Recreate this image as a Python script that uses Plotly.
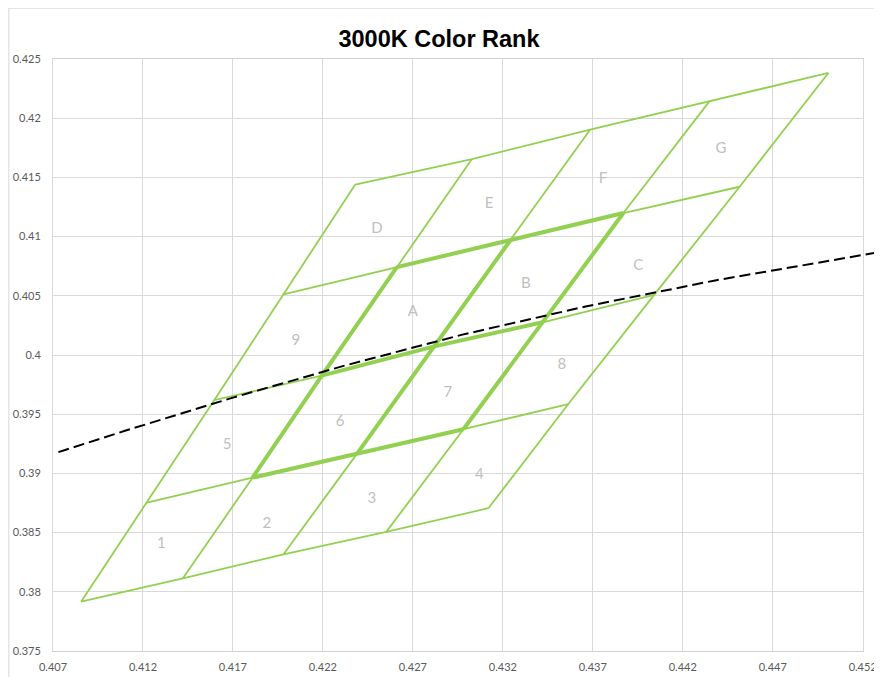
import plotly.graph_objects as go

# Grid points of the bin boundaries (shallow lines, bottom to top), 5 points each left->right
row0_x = [0.40856, 0.41422, 0.41981, 0.42552, 0.43120]
row0_y = [0.37917, 0.38114, 0.38317, 0.38506, 0.38706]
row1_x = [0.41222, 0.41809, 0.42389, 0.42981, 0.43564]
row1_y = [0.38753, 0.38964, 0.39165, 0.39373, 0.39586]
row2_x = [0.41596, 0.42194, 0.42814, 0.43421, 0.44041]
row2_y = [0.39618, 0.39826, 0.40071, 0.40276, 0.40508]
row3_x = [0.41981, 0.42611, 0.43241, 0.43870, 0.44516]
row3_y = [0.40513, 0.40742, 0.40967, 0.41199, 0.41421]
row4_x = [0.42379, 0.43028, 0.43685, 0.44348, 0.45009]
row4_y = [0.41438, 0.41655, 0.41903, 0.42142, 0.42382]

# Black body locus (dashed)
locus_x = [0.4073, 0.4110, 0.4170, 0.4232, 0.4297, 0.4366, 0.4438, 0.4514, 0.4545]
locus_y = [0.3918, 0.3936, 0.3964, 0.3991, 0.4017, 0.4041, 0.4063, 0.4083, 0.4091]

# Bin labels
bin_names = ["1", "2", "3", "4", "5", "6", "7", "8", "9", "A", "B", "C", "D", "E", "F", "G"]
bin_x = [0.41302, 0.41889, 0.42472, 0.43070, 0.41667, 0.42296, 0.42894, 0.43528,
         0.42050, 0.42700, 0.43328, 0.43953, 0.42500, 0.43124, 0.43756, 0.44413]
bin_y = [0.38404, 0.38571, 0.38784, 0.38987, 0.39241, 0.39433, 0.39678, 0.39917,
         0.40120, 0.40359, 0.40599, 0.40753, 0.41058, 0.41275, 0.41486, 0.41734]

x_ticks = [0.407, 0.412, 0.417, 0.422, 0.427, 0.432, 0.437, 0.442, 0.447, 0.452]
y_ticks = [0.375, 0.38, 0.385, 0.39, 0.395, 0.4, 0.405, 0.41, 0.415, 0.42, 0.425]

rows_x = [row0_x, row1_x, row2_x, row3_x, row4_x]
rows_y = [row0_y, row1_y, row2_y, row3_y, row4_y]

GREEN = "#92D050"
fig = go.Figure()

# thin full grid
for rx, ry in zip(rows_x, rows_y):
    fig.add_trace(go.Scatter(x=rx, y=ry, mode="lines",
                             line=dict(color=GREEN, width=1.8), hoverinfo="skip"))
for i in range(5):
    fig.add_trace(go.Scatter(x=[r[i] for r in rows_x], y=[r[i] for r in rows_y], mode="lines",
                             line=dict(color=GREEN, width=1.8), hoverinfo="skip"))

# thick inner quadrangle
for j in range(1, 4):
    fig.add_trace(go.Scatter(x=rows_x[j][1:4], y=rows_y[j][1:4], mode="lines",
                             line=dict(color=GREEN, width=4), hoverinfo="skip"))
for i in range(1, 4):
    fig.add_trace(go.Scatter(x=[rows_x[j][i] for j in range(1, 4)],
                             y=[rows_y[j][i] for j in range(1, 4)], mode="lines",
                             line=dict(color=GREEN, width=4), hoverinfo="skip"))

# labels
fig.add_trace(go.Scatter(x=bin_x, y=bin_y, mode="text", text=bin_names,
                         textfont=dict(family="Lato", size=15, color="#BFBFBF"),
                         hoverinfo="skip"))

# locus (on a hidden, wider axis so it can run past the right edge of the plot, as in the reference)
fig.add_trace(go.Scatter(x=locus_x, y=locus_y, mode="lines", xaxis="x2", yaxis="y2",
                         line=dict(color="black", width=2, dash="11px,5px"), hoverinfo="skip"))

W, H = 874, 669
ML, MR, MT, MB = 44.7, 0, 51.3, 26
PW, PH = W - ML - MR, H - MT - MB
PLOT_W = 810.0
X0, X1 = 0.407, 0.452
x2_max = X0 + (X1 - X0) * PW / PLOT_W

fig.update_layout(
    width=W, height=H,
    margin=dict(l=ML, r=MR, t=MT, b=MB, autoexpand=False),
    paper_bgcolor="white", plot_bgcolor="rgba(0,0,0,0)",
    showlegend=False,
    title=dict(text="<b>3000K Color Rank</b>", x=431 / W, xref="container", xanchor="center",
               y=1 - 30.5 / H, yref="container", yanchor="middle",
               font=dict(family="Liberation Sans", size=23.5, color="black")),
    shapes=[
        dict(type="line", xref="paper", yref="paper",
             x0=(0.5 - ML) / PW, x1=1.0, y0=1 + (MT - 0.5) / PH, y1=1 + (MT - 0.5) / PH,
             line=dict(color="#D9D9D9", width=1)),
        dict(type="line", xref="paper", yref="paper",
             x0=(0.5 - ML) / PW, x1=(0.5 - ML) / PW, y0=1 + (MT - 0.5) / PH, y1=-MB / PH,
             line=dict(color="#D9D9D9", width=1)),
    ],
    xaxis=dict(domain=[0, PLOT_W / PW]),
    xaxis2=dict(domain=[0, 1], range=[X0, x2_max], visible=False, anchor="y2",
                showgrid=False, zeroline=False),
    yaxis2=dict(domain=[0, 1], range=[0.375, 0.425], visible=False, anchor="x2",
                showgrid=False, zeroline=False),
)
fig.layout.xaxis.update(range=[X0, X1], tickvals=x_ticks, ticktext=[str(v) for v in x_ticks],
                        automargin=False,
                        showgrid=True, gridcolor="#D9D9D9", gridwidth=1,
                        showline=True, linecolor="#D0D0D0", mirror=True, zeroline=False,
                        ticks="outside", ticklen=6, tickcolor="rgba(0,0,0,0)",
                        tickfont=dict(family="Lato", size=11, color="#595959"))
fig.layout.yaxis.update(range=[0.375, 0.425], tickvals=y_ticks, ticktext=[str(v) for v in y_ticks],
                        automargin=False,
                        showgrid=True, gridcolor="#D9D9D9", gridwidth=1,
                        showline=True, linecolor="#D9D9D9", mirror=True, zeroline=False,
                        ticks="outside", ticklen=9, tickcolor="rgba(0,0,0,0)",
                        tickfont=dict(family="Lato", size=11, color="#595959"))

fig.write_html("out.html")
